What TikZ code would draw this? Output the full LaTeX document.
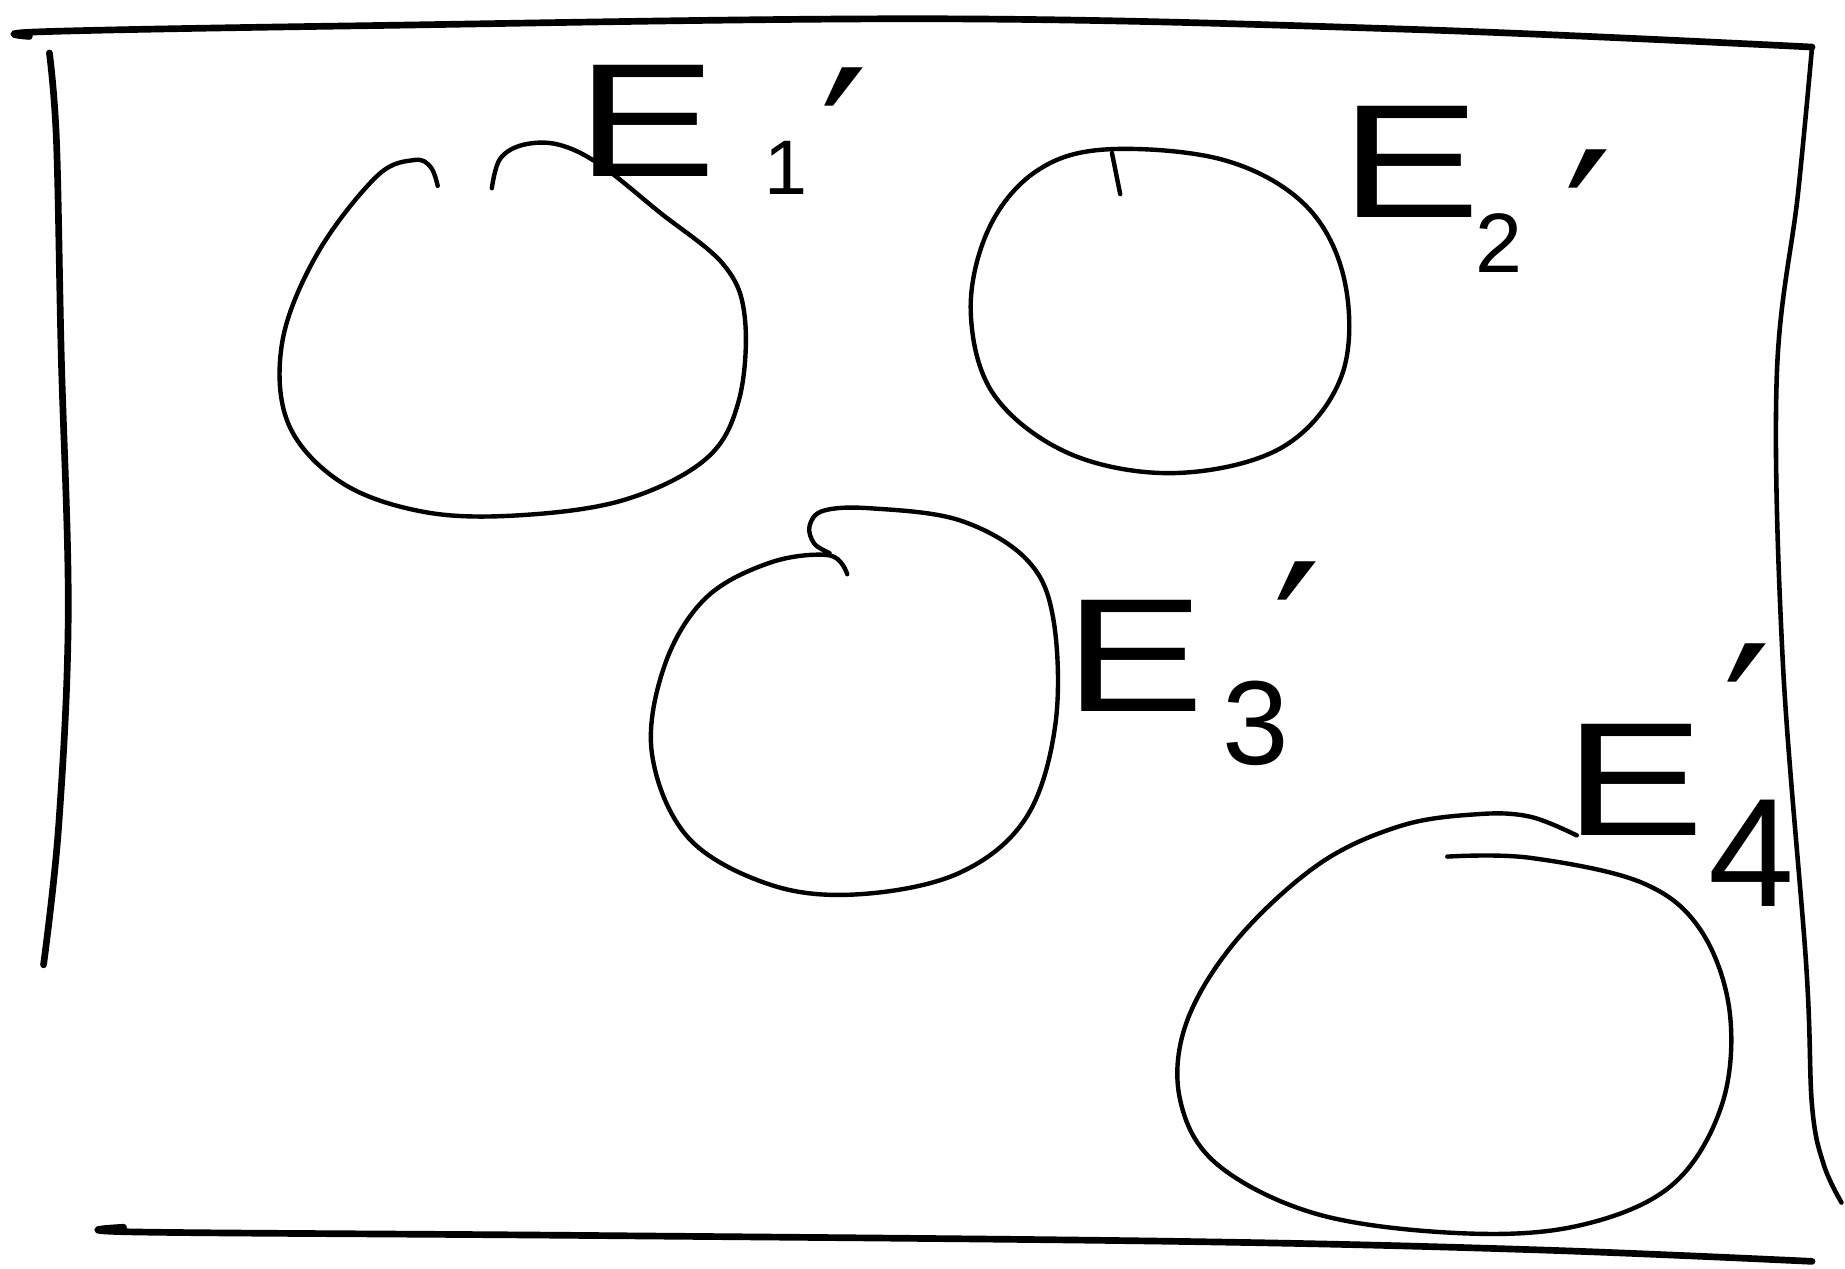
\documentclass[tikz,border=0pt]{standalone}
\usepackage{graphicx}
\usepackage{fontspec}
\setmainfont{Liberation Sans}
\newfontfamily\primefont{DejaVu Sans}
\newlength\pxu
\setlength\pxu{0.3348pt}
% #1 digit, #2 digit size (pt), #3 digit dx (px), #4 digit drop (px), #5 prime dx (px), #6 prime raise (px)
\newcommand\elab[6]{\fontsize{46}{48}\selectfont
  \rlap{\scalebox{1.3}[1]{E}}%
  \rlap{\hspace{#3\pxu}\raisebox{-#4\pxu}{\fontsize{#2}{#2}\selectfont #1}}%
  \rlap{\hspace{#5\pxu}\raisebox{#6\pxu}{\fontsize{60}{60}\primefont ′}}%
  \hspace{#5\pxu}\hspace{40\pxu}}
\begin{document}
\begin{tikzpicture}[x=0.0117668cm,y=-0.0117668cm,
  frame/.style={line width=1.9pt,line cap=round,line join=round},
  blob/.style={line width=1.25pt,line cap=round,line join=round},
  lbl/.style={inner sep=0pt,anchor=base west}]
\useasboundingbox (0,0) rectangle (1568,1078);
% frame
\draw[frame] plot[smooth,tension=0.6] coordinates {(25,31) (35,27) (300,22) (800,16) (1200,25) (1540,40)};
\draw[frame] plot[smooth,tension=0.6] coordinates {(42,45) (48,120) (52,300) (58,520) (50,700) (37,820)};
\draw[frame,line width=1.3pt] plot[smooth,tension=0.6] coordinates {(1540,40) (1528,165) (1510,320) (1515,560) (1535,820) (1540,940) (1550,990) (1565,1022)};
\draw[frame] plot[smooth,tension=0.6] coordinates {(105,1043) (115,1047) (500,1050) (1000,1055) (1300,1062) (1540,1072)};
% blob 1
\draw[blob] plot[smooth,tension=0.6] coordinates {(372,158) (366,142) (352,136) (320,150) (270,215) (240,290) (245,360) (290,410) (360,435) (440,438) (530,425) (600,390) (628,340) (633,270) (615,225) (560,180) (510,140) (475,123) (445,123) (425,135) (418,160)};
% blob 2
\draw[blob] plot[smooth cycle,tension=0.6] coordinates {(940,127) (1040,136) (1110,175) (1143,240) (1140,320) (1090,380) (1000,402) (910,386) (845,336) (825,265) (840,195) (880,146)};
\draw[blob] (945,130) -- (952,165);
% blob 3
\draw[blob] plot[smooth,tension=0.6] coordinates {(720,488) (705,472) (655,478) (600,508) (565,565) (554,640) (585,712) (655,752) (730,760) (815,742) (872,695) (897,615) (895,525) (872,475) (815,442) (740,432) (700,434) (688,447) (692,462) (705,470)};
% blob 4
\draw[blob] plot[smooth,tension=0.6] coordinates {(1340,710) (1300,694) (1255,692) (1190,702) (1120,735) (1050,800) (1008,870) (1003,935) (1035,990) (1120,1032) (1240,1048) (1340,1042) (1420,1008) (1463,940) (1470,860) (1445,790) (1395,750) (1300,729) (1230,728)};
% labels
\node[lbl] (e1) at (489,150) {\elab{1}{22}{160}{15}{208}{-38}};
\node[lbl] (e2) at (1139,185) {\elab{2}{24}{114}{47}{190}{-73}};
\node[lbl] (e3) at (904,605) {\elab{3}{34}{134}{45}{178}{-3}};
\node[lbl] (e4) at (1329,710) {\elab{4}{44}{122}{60}{135}{32}};
\end{tikzpicture}
\end{document}
